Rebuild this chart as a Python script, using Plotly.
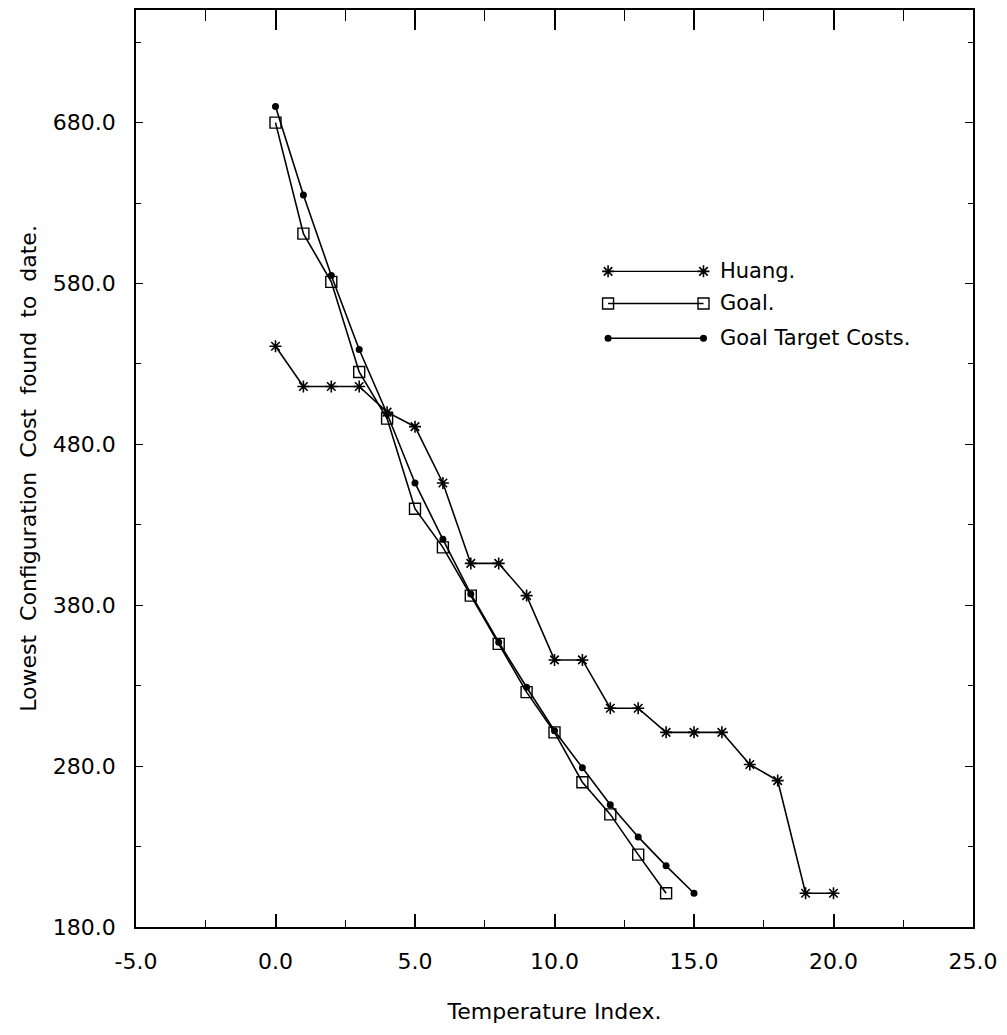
import plotly.graph_objects as go

# Temperature index steps
huang_x = list(range(0, 21))
goal_x = list(range(0, 15))
target_x = list(range(0, 16))

# Lowest configuration cost found so far at each temperature step
huang_cost = [541, 516, 516, 516, 500, 491, 456, 406, 406, 386, 346, 346,
              316, 316, 301, 301, 301, 281, 271, 201, 201]
goal_cost = [680, 611, 581, 525, 496, 440, 416, 386, 356, 326, 301, 270,
             250, 225, 201]
target_cost = [690, 635, 585, 539, 499, 456, 421, 387, 357, 329, 302, 279,
               256, 236, 218, 201]

series_names = ["Huang.", "Goal.", "Goal Target Costs."]

x_ticks = [-5, 0, 5, 10, 15, 20, 25]
x_tick_text = ["-5.0", "0.0", "5.0", "10.0", "15.0", "20.0", "25.0"]
x_minor = [-2.5, 2.5, 7.5, 12.5, 17.5, 22.5]
y_ticks = [180, 280, 380, 480, 580, 680]
y_tick_text = ["180.0", "280.0", "380.0", "480.0", "580.0", "680.0"]
y_minor = [230, 330, 430, 530, 630, 730]

FONT = "DejaVu Sans"
INK = "black"

marker_styles = [
    dict(symbol="asterisk-open", size=10, color=INK, line=dict(color=INK, width=1.6)),
    dict(symbol="square-open", size=11, color=INK, line=dict(color=INK, width=1.4)),
    dict(symbol="circle", size=7, color=INK, line=dict(color=INK, width=0)),
]

fig = go.Figure()

for name, xs, ys, mk in zip(series_names,
                            [huang_x, goal_x, target_x],
                            [huang_cost, goal_cost, target_cost],
                            marker_styles):
    fig.add_trace(go.Scatter(
        x=xs, y=ys, name=name, mode="lines+markers",
        line=dict(color=INK, width=1.6), marker=mk,
        showlegend=False, cliponaxis=False,
    ))

# Hand-drawn key: a short sample line with a marker at each end, text to the right
key_x0, key_x1, key_text_x = 0.564, 0.678, 0.695
key_rows = [0.715, 0.680, 0.642]
for name, mk, ky in zip(series_names, marker_styles, key_rows):
    fig.add_trace(go.Scatter(
        x=[key_x0, key_x1], y=[ky, ky], mode="lines+markers",
        line=dict(color=INK, width=1.4), marker=mk,
        xaxis="x3", yaxis="y3", showlegend=False, hoverinfo="skip",
    ))
    fig.add_annotation(
        x=key_text_x, y=ky, xref="x3", yref="y3", text=name,
        showarrow=False, xanchor="left", yanchor="middle",
        font=dict(family=FONT, size=21, color=INK),
    )

# invisible anchors so the mirrored tick axes are drawn
fig.add_trace(go.Scatter(x=[-5], y=[180], xaxis="x2", yaxis="y2",
                         mode="markers", marker=dict(opacity=0),
                         showlegend=False, hoverinfo="skip"))

tick_font = dict(family=FONT, size=22, color=INK)
title_font = dict(family=FONT, size=22, color=INK)

fig.update_layout(
    width=1007, height=1035,
    margin=dict(l=136, r=29, t=10, b=108),
    paper_bgcolor="white", plot_bgcolor="white",
    xaxis=dict(
        range=[-5, 25], tickmode="array", tickvals=x_ticks, ticktext=x_tick_text,
        ticks="inside", ticklen=13, tickwidth=1.6, tickcolor=INK,
        minor=dict(tickmode="array", tickvals=x_minor, ticks="inside",
                   ticklen=7, tickwidth=1.4, tickcolor=INK),
        showline=True, linecolor=INK, linewidth=1.6, showgrid=False,
        zeroline=False, tickfont=tick_font, ticklabelstandoff=14,
        title=dict(text="Temperature Index.", font=title_font, standoff=30),
    ),
    xaxis2=dict(
        range=[-5, 25], overlaying="x", side="top", anchor="y",
        tickmode="array", tickvals=x_ticks, showticklabels=False,
        ticks="inside", ticklen=20, tickwidth=1.6, tickcolor=INK,
        minor=dict(tickmode="array", tickvals=x_minor, ticks="inside",
                   ticklen=11, tickwidth=1.4, tickcolor=INK),
        showline=True, linecolor=INK, linewidth=1.6, showgrid=False, zeroline=False,
    ),
    yaxis=dict(
        range=[180, 750], tickmode="array", tickvals=y_ticks, ticktext=y_tick_text,
        ticks="inside", ticklen=7, tickwidth=1.4, tickcolor=INK,
        minor=dict(tickmode="array", tickvals=y_minor, ticks="inside",
                   ticklen=5, tickwidth=1.2, tickcolor=INK),
        showline=True, linecolor=INK, linewidth=1.8, showgrid=False,
        zeroline=False, tickfont=tick_font, ticklabelstandoff=14,
        title=dict(text="Lowest  Configuration  Cost  found  to  date.",
                   font=title_font, standoff=10),
    ),
    yaxis2=dict(
        range=[180, 750], overlaying="y", side="right", anchor="x",
        tickmode="array", tickvals=y_ticks, showticklabels=False,
        ticks="inside", ticklen=8, tickwidth=1.4, tickcolor=INK,
        minor=dict(tickmode="array", tickvals=y_minor, ticks="inside",
                   ticklen=5, tickwidth=1.2, tickcolor=INK),
        showline=True, linecolor=INK, linewidth=1.6, showgrid=False, zeroline=False,
    ),
    xaxis3=dict(range=[0, 1], overlaying="x", visible=False, fixedrange=True),
    yaxis3=dict(range=[0, 1], overlaying="y", visible=False, fixedrange=True),
    showlegend=False,
)

fig.write_html("out.html")
